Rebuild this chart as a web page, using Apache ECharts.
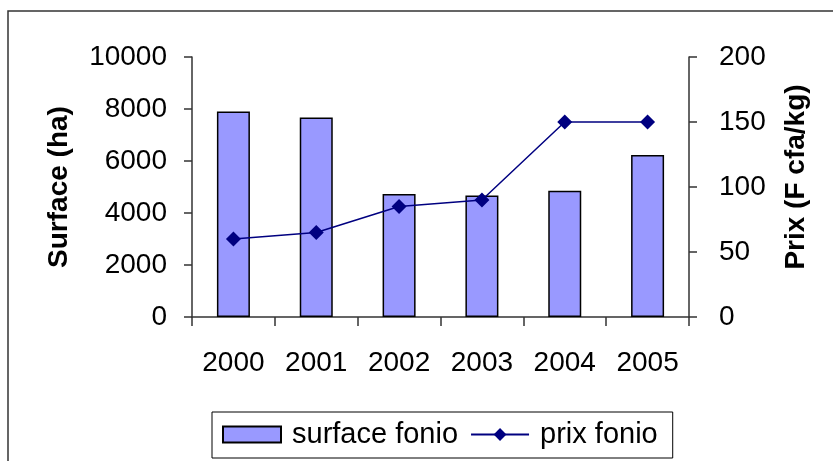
<!DOCTYPE html>
<html>
<head>
<meta charset="utf-8">
<script src="https://cdn.jsdelivr.net/npm/echarts@6/dist/echarts.min.js"></script>
<style>
html,body{margin:0;padding:0;background:#fff;}
#c{width:833px;height:461px;}
</style>
</head>
<body>
<div id="c"></div>
<script>
var years = ['2000', '2001', '2002', '2003', '2004', '2005'];
var surfaceFonio = [7900, 7670, 4730, 4670, 4860, 6230];
var prixFonio = [60, 65, 85, 90, 150, 150];
var leftTicks = { min: 0, max: 10000, interval: 2000 };
var rightTicks = { min: 0, max: 200, interval: 50 };

var FONT = '"Liberation Sans", Arial, sans-serif';
var chart = echarts.init(document.getElementById('c'), null, { renderer: 'canvas' });
var axisLineStyle = { color: '#333', width: 1.5 };
chart.setOption({
  animation: false,
  backgroundColor: '#fff',
  textStyle: { fontFamily: FONT },
  graphic: [{
    type: 'rect',
    shape: { x: 8, y: 11, width: 900, height: 600 },
    style: { fill: 'none', stroke: '#333', lineWidth: 1.5 },
    silent: true, z: -1
  }],
  grid: { left: 192, right: 144, top: 57, bottom: 144 },
  legend: {
    left: 212, top: 412,
    padding: [8, 15, 9, 10],
    borderColor: '#000', borderWidth: 1,
    itemGap: 12,
    itemWidth: 58, itemHeight: 16,
    textStyle: { fontSize: 29, color: '#000', fontFamily: FONT, padding: [0, 0, 0, 6] },
    data: [
      { name: 'surface fonio', icon: 'rect' },
      { name: 'prix fonio' }
    ]
  },
  xAxis: {
    type: 'category',
    data: years,
    axisLine: { lineStyle: axisLineStyle },
    axisTick: { show: true, length: 9, lineStyle: axisLineStyle },
    axisLabel: { fontSize: 28, color: '#000', margin: 32, fontFamily: FONT },
    splitLine: { show: false }
  },
  yAxis: [{
    type: 'value',
    min: leftTicks.min, max: leftTicks.max, interval: leftTicks.interval,
    name: 'Surface (ha)',
    nameLocation: 'middle',
    nameRotate: 90,
    nameGap: 119,
    nameTextStyle: { fontSize: 28, fontWeight: 'bold', color: '#000', fontFamily: FONT },
    axisLine: { show: true, lineStyle: axisLineStyle },
    axisTick: { show: true, length: 8, lineStyle: axisLineStyle },
    axisLabel: { fontSize: 28, color: '#000', margin: 25, fontFamily: FONT,
      formatter: function (v) { return String(v); } },
    splitLine: { show: false }
  }, {
    type: 'value',
    position: 'right',
    min: rightTicks.min, max: rightTicks.max, interval: rightTicks.interval,
    name: 'Prix (F cfa/kg)',
    nameLocation: 'middle',
    nameRotate: 90,
    nameGap: 93,
    nameTextStyle: { fontSize: 28, fontWeight: 'bold', color: '#000', fontFamily: FONT, padding: [0, 0, 0, 20] },
    axisLine: { show: true, lineStyle: axisLineStyle },
    axisTick: { show: true, length: 8, lineStyle: axisLineStyle },
    axisLabel: { fontSize: 28, color: '#000', margin: 30, fontFamily: FONT },
    splitLine: { show: false }
  }],
  series: [{
    name: 'surface fonio',
    type: 'bar',
    yAxisIndex: 0,
    data: surfaceFonio,
    barWidth: 33,
    itemStyle: { color: '#9999FF', borderColor: '#000', borderWidth: 1.5 }
  }, {
    name: 'prix fonio',
    type: 'line',
    yAxisIndex: 1,
    data: prixFonio,
    symbol: 'diamond',
    symbolSize: 15,
    lineStyle: { color: '#000080', width: 1.5 },
    itemStyle: { color: '#000080' }
  }]
});
</script>
</body>
</html>
